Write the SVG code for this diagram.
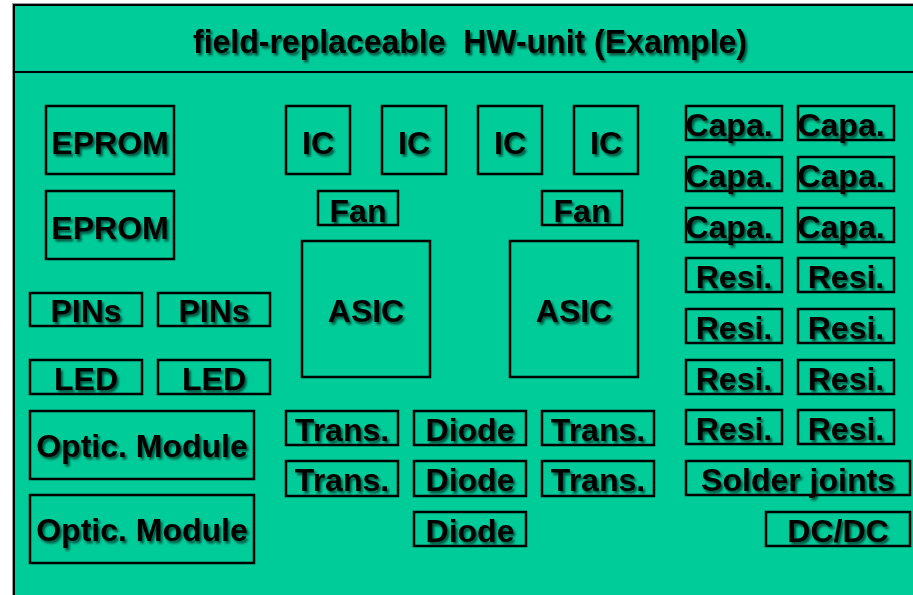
<svg xmlns="http://www.w3.org/2000/svg" width="913" height="595" viewBox="0 0 913 595">
<defs>
<filter id="sh" x="-10%" y="-20%" width="130%" height="160%">
<feDropShadow dx="2" dy="2.5" stdDeviation="1.3" flood-color="#000" flood-opacity="0.6"/>
</filter>
</defs>
<style>
.b{fill:none;stroke:#000;stroke-width:2.5}
.t{font-family:"Liberation Sans",Arial,sans-serif;font-weight:bold;font-size:32px;fill:#000;text-anchor:middle;filter:url(#sh)}
.ti{font-size:34px;white-space:pre}
</style>
<rect x="0" y="0" width="913" height="595" fill="#fff"/>
<rect x="12.5" y="3.5" width="910" height="600" fill="none" stroke="#999" stroke-width="1"/>
<rect x="14" y="5" width="910" height="600" fill="#00CC99" stroke="#000" stroke-width="2"/>
<line x1="14" y1="72" x2="913" y2="72" stroke="#000" stroke-width="2"/>
<g id="title"><text class="t ti" x="470" y="53" textLength="554" lengthAdjust="spacingAndGlyphs" xml:space="preserve">field-replaceable  HW-unit (Example)</text></g>

<g id="eprom1"><rect class="b" x="46" y="106" width="128" height="68"/><text class="t" x="110" y="154">EPROM</text></g>
<g id="eprom2"><rect class="b" x="46" y="191" width="128" height="68"/><text class="t" x="110" y="239">EPROM</text></g>
<g id="pins1"><rect class="b" x="30" y="293" width="112" height="33"/><text class="t" x="86" y="322">PINs</text></g>
<g id="pins2"><rect class="b" x="158" y="293" width="112" height="33"/><text class="t" x="214" y="322">PINs</text></g>
<g id="led1"><rect class="b" x="30" y="360" width="112" height="34"/><text class="t" x="86" y="390">LED</text></g>
<g id="led2"><rect class="b" x="158" y="360" width="112" height="34"/><text class="t" x="214" y="390">LED</text></g>
<g id="optic1"><rect class="b" x="30" y="411" width="224" height="68"/><text class="t" x="142" y="457">Optic. Module</text></g>
<g id="optic2"><rect class="b" x="30" y="495" width="224" height="68"/><text class="t" x="142" y="541">Optic. Module</text></g>

<g id="ic1"><rect class="b" x="286" y="106" width="64" height="68"/><text class="t" x="318" y="154">IC</text></g>
<g id="ic2"><rect class="b" x="382" y="106" width="64" height="68"/><text class="t" x="414" y="154">IC</text></g>
<g id="ic3"><rect class="b" x="478" y="106" width="64" height="68"/><text class="t" x="510" y="154">IC</text></g>
<g id="ic4"><rect class="b" x="574" y="106" width="64" height="68"/><text class="t" x="606" y="154">IC</text></g>
<g id="fan1"><rect class="b" x="318" y="191" width="80" height="34"/><text class="t" x="358" y="222">Fan</text></g>
<g id="fan2"><rect class="b" x="542" y="191" width="80" height="34"/><text class="t" x="582" y="222">Fan</text></g>
<g id="asic1"><rect class="b" x="302" y="241" width="128" height="136"/><text class="t" x="366" y="322">ASIC</text></g>
<g id="asic2"><rect class="b" x="510" y="241" width="128" height="136"/><text class="t" x="574" y="322">ASIC</text></g>

<g id="trans1"><rect class="b" x="286" y="411" width="112" height="34"/><text class="t" x="342" y="441">Trans.</text></g>
<g id="diode1"><rect class="b" x="414" y="411" width="112" height="34"/><text class="t" x="470" y="441">Diode</text></g>
<g id="trans2"><rect class="b" x="542" y="411" width="112" height="34"/><text class="t" x="598" y="441">Trans.</text></g>
<g id="trans3"><rect class="b" x="286" y="461" width="112" height="35"/><text class="t" x="342" y="491">Trans.</text></g>
<g id="diode2"><rect class="b" x="414" y="461" width="112" height="35"/><text class="t" x="470" y="491">Diode</text></g>
<g id="trans4"><rect class="b" x="542" y="461" width="112" height="35"/><text class="t" x="598" y="491">Trans.</text></g>
<g id="diode3"><rect class="b" x="414" y="512" width="112" height="34"/><text class="t" x="470" y="542">Diode</text></g>

<g id="capa1"><rect class="b" x="686" y="106" width="96" height="34"/><text class="t" x="729" y="136">Capa.</text></g>
<g id="capa2"><rect class="b" x="798" y="106" width="96" height="34"/><text class="t" x="841" y="136">Capa.</text></g>
<g id="capa3"><rect class="b" x="686" y="157" width="96" height="34"/><text class="t" x="729" y="187">Capa.</text></g>
<g id="capa4"><rect class="b" x="798" y="157" width="96" height="34"/><text class="t" x="841" y="187">Capa.</text></g>
<g id="capa5"><rect class="b" x="686" y="208" width="96" height="34"/><text class="t" x="729" y="238">Capa.</text></g>
<g id="capa6"><rect class="b" x="798" y="208" width="96" height="34"/><text class="t" x="841" y="238">Capa.</text></g>
<g id="resi1"><rect class="b" x="686" y="258" width="96" height="34"/><text class="t" x="734" y="288">Resi.</text></g>
<g id="resi2"><rect class="b" x="798" y="258" width="96" height="34"/><text class="t" x="846" y="288">Resi.</text></g>
<g id="resi3"><rect class="b" x="686" y="309" width="96" height="34"/><text class="t" x="734" y="339">Resi.</text></g>
<g id="resi4"><rect class="b" x="798" y="309" width="96" height="34"/><text class="t" x="846" y="339">Resi.</text></g>
<g id="resi5"><rect class="b" x="686" y="360" width="96" height="34"/><text class="t" x="734" y="390">Resi.</text></g>
<g id="resi6"><rect class="b" x="798" y="360" width="96" height="34"/><text class="t" x="846" y="390">Resi.</text></g>
<g id="resi7"><rect class="b" x="686" y="410" width="96" height="34"/><text class="t" x="734" y="440">Resi.</text></g>
<g id="resi8"><rect class="b" x="798" y="410" width="96" height="34"/><text class="t" x="846" y="440">Resi.</text></g>
<g id="solder"><rect class="b" x="686" y="461" width="224" height="34"/><text class="t" x="798" y="491">Solder joints</text></g>
<g id="dcdc"><rect class="b" x="766" y="512" width="144" height="34"/><text class="t" x="838" y="542">DC/DC</text></g>
<g id="connectors"/>
</svg>
